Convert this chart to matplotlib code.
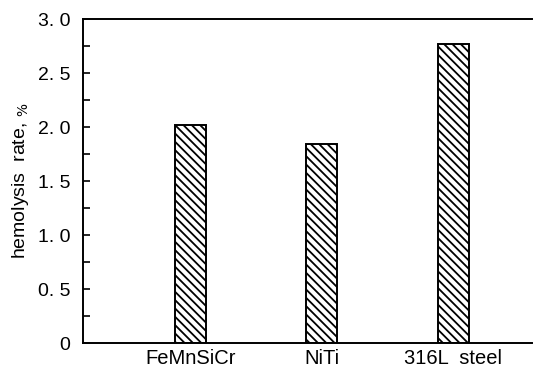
import matplotlib.pyplot as plt
import numpy as np

plt.rcParams['font.family'] = ['Liberation Sans', 'DejaVu Sans']
plt.rcParams['hatch.linewidth'] = 1.3

materials = ["FeMnSiCr", "NiTi", "316L  steel"]
hemolysis = [2.02, 1.84, 2.77]
yticks = [0, 0.5, 1.0, 1.5, 2.0, 2.5, 3.0]
ytick_labels = ["0", "0. 5", "1. 0", "1. 5", "2. 0", "2. 5", "3. 0"]

fig = plt.figure(figsize=(5.33, 3.72), dpi=100)
ax = fig.add_axes([83/533, 29/372, 449/533, 324/372])

x = np.arange(len(materials))
ax.bar(x, hemolysis, width=0.236, color="white", edgecolor="black",
       linewidth=1.4, hatch="\\\\\\\\")

ax.set_xlim(-0.817, 2.6)
ax.set_ylim(0, 3.0)
ax.set_yticks(yticks)
ax.set_yticklabels(ytick_labels, fontsize=14)
ax.set_yticks(np.arange(0.25, 3.0, 0.5), minor=True)
ax.tick_params(axis="y", which="both", direction="in", length=5, width=1.2, pad=9)
ax.set_xticks(x)
ax.set_xticklabels(materials, fontsize=14.5)
ax.tick_params(axis="x", length=0, pad=4)

ax.set_ylabel("hemolysis  rate, $_{\\%}$", fontsize=14, labelpad=5)

ax.spines["right"].set_visible(False)
for s in ["left", "top", "bottom"]:
    ax.spines[s].set_linewidth(1.4)

plt.savefig("out.png", dpi=100)
plt.close()
